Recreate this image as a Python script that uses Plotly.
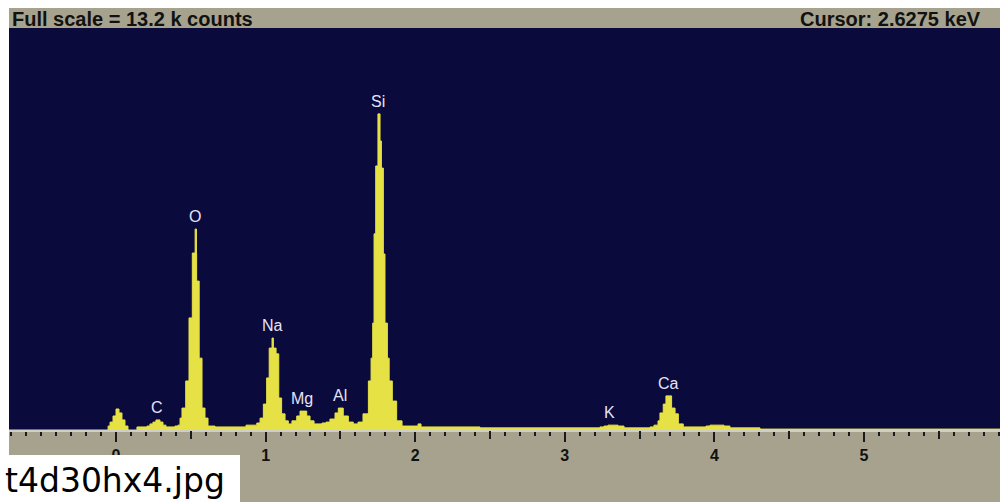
import plotly.graph_objects as go

# ---- data ----
energy_kev = [-0.720, -0.053, -0.040, -0.020, 0.000, 0.020, 0.040, 0.060, 0.080,
              0.140, 0.207, 0.227, 0.247, 0.267, 0.294, 0.314, 0.334, 0.394,
              0.414, 0.428, 0.441, 0.466, 0.488, 0.510, 0.529, 0.538, 0.539, 0.556, 0.575, 0.595, 0.615,
              0.662, 0.869,
              0.941, 0.963, 0.985, 1.007, 1.024, 1.043, 1.052, 1.070, 1.088, 1.107, 1.130, 1.152,
              1.176, 1.208, 1.230, 1.275, 1.297, 1.324, 1.377,
              1.404, 1.430, 1.464, 1.486, 1.519, 1.553, 1.586,
              1.618, 1.651, 1.687, 1.705, 1.716, 1.725, 1.736, 1.751, 1.765, 1.774, 1.787, 1.798,
              1.814, 1.826, 1.847, 1.876, 1.912, 2.019, 2.039,
              2.433, 3.235, 3.262, 3.289, 3.356, 3.396,
              3.570, 3.596, 3.623, 3.636, 3.658, 3.676, 3.714, 3.737, 3.759, 3.792,
              3.944, 3.971, 4.064, 4.104, 4.305, 5.910]
counts = [0, 130, 260, 460, 690, 560, 330, 130, 0,
          100, 130, 200, 260, 330, 260, 160, 100, 130,
          160, 390, 720, 1610, 3680, 5810, 6600, 5810, 4890, 2360, 720, 390, 130,
          100, 160,
          230, 390, 850, 1710, 2690, 3020, 2690, 2500, 1050, 530, 300, 200,
          300, 460, 620, 460, 300, 200, 230,
          260, 360, 560, 720, 460, 260, 200,
          260, 530, 1610, 2360, 3510, 6440, 8670, 10380, 9490, 8600, 5780, 3510,
          2360, 1610, 950, 300, 130, 200, 100,
          70, 100, 130, 160, 130, 70,
          100, 160, 300, 560, 850, 1120, 720, 530, 200, 100,
          130, 160, 130, 70, 30, 30]

element_labels = ["C", "O", "Na", "Mg", "Al", "Si", "K", "Ca"]
element_kev = [0.274, 0.530, 1.043, 1.245, 1.497, 1.752, 3.300, 3.690]

tick_major = [0, 1, 2, 3, 4, 5]
tick_half = [0.5, 1.5, 2.5, 3.5, 4.5, 5.5]

full_scale = 13200
header_left = "Full scale = 13.2 k counts"
header_right = "Cursor: 2.6275 keV"
caption = "t4d30hx4.jpg"

# ---- style ----
NAVY = "#0a0a3c"
YELLOW = "#e6e245"
KHAKI = "#a7a28e"
LABEL = "#e4e4f6"
TICK = "#1a1a1a"

fig = go.Figure()
fig.add_trace(go.Scatter(
    x=energy_kev, y=counts, mode="lines", line_shape="hv",
    line=dict(color=YELLOW, width=1), fill="tozeroy", fillcolor=YELLOW,
    hoverinfo="x+y", showlegend=False))

def peak_height(e):
    best = 0
    for xe, c in zip(energy_kev, counts):
        if abs(xe - e) <= 0.04:
            best = max(best, c)
    return best

for name, e in zip(element_labels, element_kev):
    fig.add_annotation(x=e, y=peak_height(e), text=name, showarrow=False,
                       xanchor="center", yanchor="bottom", yshift=2,
                       font=dict(family="Liberation Sans", size=16, color=LABEL))

# plot area in page pixels (page body margin removed below)
FIG_W, FIG_H = 1000, 502
L, R, T, B = 9, 1000, 28, 430
W, H = R - L, B - T
def px(xp):
    return (xp - L) / W
def py(yp):
    return (B - yp) / H

shapes = [
    dict(type="rect", xref="paper", yref="paper", x0=0, x1=1, y0=1, y1=py(8),
         fillcolor=KHAKI, line=dict(width=0), layer="below"),
    dict(type="rect", xref="paper", yref="paper", x0=0, x1=1, y0=0, y1=py(503),
         fillcolor=KHAKI, line=dict(width=0), layer="below"),
    dict(type="rect", xref="paper", yref="paper", x0=px(0), x1=px(240), y0=py(455), y1=py(503),
         fillcolor="white", line=dict(width=0), layer="above"),
]
fig.update_layout(shapes=shapes)

fig.add_annotation(xref="paper", yref="paper", x=px(10), y=py(18.5), text=header_left,
                   showarrow=False, xanchor="left", yanchor="middle",
                   font=dict(family="Liberation Sans", size=20, color="#111111", weight="bold"))
fig.add_annotation(xref="paper", yref="paper", x=px(983), y=py(18.5), text=header_right,
                   showarrow=False, xanchor="right", yanchor="middle",
                   font=dict(family="Liberation Sans", size=20, color="#111111", weight="bold"))
fig.add_annotation(xref="paper", yref="paper", x=px(3), y=py(480), text=caption,
                   showarrow=False, xanchor="left", yanchor="middle",
                   font=dict(family="DejaVu Sans", size=33, color="#000000"))

xr = [(L - 116) / 149.6, (R - 116) / 149.6]
fig.update_layout(
    width=FIG_W, height=FIG_H,
    margin=dict(l=L, r=FIG_W - R, t=T, b=FIG_H - B, pad=0),
    paper_bgcolor="white", plot_bgcolor=NAVY,
    xaxis=dict(range=xr, tickvals=tick_major, ticktext=[str(v) for v in tick_major],
               ticks="outside", ticklen=10, tickwidth=2, tickcolor=TICK,
               showline=True, linecolor="#cfcfc6", linewidth=2,
               showgrid=False, zeroline=False, ticklabelstandoff=0,
               tickfont=dict(family="Liberation Sans", size=16, color="#111111", weight="bold"),
               minor=dict(dtick=0.1, tick0=0, ticks="outside", ticklen=4, tickwidth=2,
                          tickcolor=TICK, showgrid=False)),
    xaxis2=dict(range=xr, overlaying="x", anchor="y", side="bottom",
                tickvals=tick_half, ticks="outside", ticklen=8, tickwidth=2, tickcolor=TICK,
                showticklabels=False, showgrid=False, zeroline=False, showline=False),
    yaxis=dict(range=[0, full_scale], visible=False, fixedrange=True),
)
fig.add_trace(go.Scatter(x=[None], y=[None], xaxis="x2", showlegend=False, hoverinfo="skip"))

fig.write_html("out.html", config={"displayModeBar": False}, post_script=(
    "document.body.style.margin='0';"
    "document.documentElement.style.overflow='hidden';"
    "document.body.style.overflow='hidden';"))
